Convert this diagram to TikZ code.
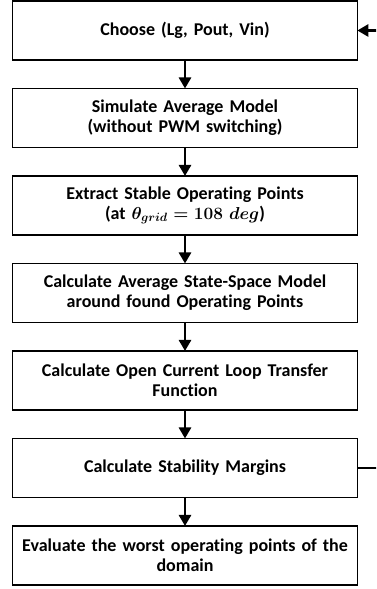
\documentclass[tikz,border=0pt]{standalone}
\usepackage{fontspec}
\setmainfont[Ligatures=NoCommon]{Carlito}
\usetikzlibrary{positioning,arrows.meta}

\begin{document}
\begin{tikzpicture}[x=1pt, y=1pt, node distance=28.5pt, box/.style={rectangle, draw, line width=1.6pt, outer sep=0pt, minimum width=340pt, minimum height=59pt, text width=338pt, align=center, font=\bfseries\fontsize{18}{20}\selectfont}, flow/.style={-{Triangle[length=11pt,width=12pt]}, line width=2.6pt}]
  \path[use as bounding box, clip] (0,0) rectangle (376,589);
  \node[box] (choose) at (185,558.5) {Choose (Lg, Pout, Vin)};
  \node[box, below=of choose] (simulate) {Simulate Average Model\\(without PWM switching)};
  \node[box, below=of simulate] (extract) {Extract Stable Operating Points\\(at \mbox{\boldmath$\theta_{grid}=108\ deg$})};
  \node[box, below=of extract] (statespace) {Calculate Average State-Space Model\\around found Operating Points};
  \node[box, below=of statespace] (transfer) {Calculate Open Current Loop Transfer\\Function};
  \node[box, below=of transfer] (margins) {Calculate Stability Margins};
  \node[box, below=of margins] (evaluate) {Evaluate the worst operating points of the\\domain};
  \draw[flow] (choose) -- (simulate);
  \draw[flow] (simulate) -- (extract);
  \draw[flow] (extract) -- (statespace);
  \draw[flow] (statespace) -- (transfer);
  \draw[flow] (transfer) -- (margins);
  \draw[flow] (margins) -- (evaluate);
  \draw[flow] (margins.east) -- ++(40,0) |- (choose.east);
\end{tikzpicture}
\end{document}
